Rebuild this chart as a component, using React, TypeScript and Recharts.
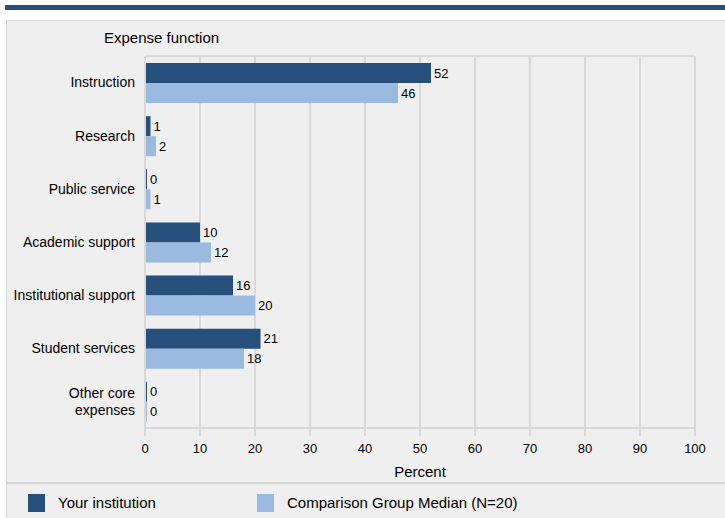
import React from 'react';
import { BarChart, Bar, XAxis, YAxis, CartesianGrid, LabelList } from 'recharts';

// Expense shares (percent of core expenses)
const categories = [
  'Instruction',
  'Research',
  'Public service',
  'Academic support',
  'Institutional support',
  'Student services',
  'Other core\nexpenses',
];
const yourInstitution = [52, 1, 0, 10, 16, 21, 0];
const comparisonMedian = [46, 2, 1, 12, 20, 18, 0];
const xTicks = [0, 10, 20, 30, 40, 50, 60, 70, 80, 90, 100];

const DARK = '#264f7b';
const LIGHT = '#9bbadf';
const GRID = '#d9d9d9';
const FONT = '"Liberation Sans", Arial, sans-serif';

const data = categories.map((name, i) => ({
  name,
  yours: yourInstitution[i],
  median: comparisonMedian[i],
}));

const CategoryTick = (props: any) => {
  const { x, y, payload } = props;
  const lines = String(payload.value).split('\n');
  const lineH = 17;
  const startY = y - ((lines.length - 1) * lineH) / 2;
  return (
    <text x={x} y={startY} textAnchor="end" fontSize={14} fill="#000" fontFamily={FONT}>
      {lines.map((l, i) => (
        <tspan key={i} x={x} y={startY + i * lineH} dy="0.35em">
          {l}
        </tspan>
      ))}
    </text>
  );
};

const App = () => {
  return (
    <div style={{ position: 'absolute', left: 0, top: 0, width: 725, height: 518, background: '#fff', fontFamily: FONT, overflow: 'hidden' }}>
      <div style={{ position: 'absolute', left: 5, top: 5, width: 720, height: 5, background: DARK }} />
      <div
        style={{
          position: 'absolute',
          left: 6,
          top: 20,
          width: 730,
          height: 510,
          background: '#efefef',
          border: '1px solid #d6d6d6',
          boxSizing: 'border-box',
        }}
      />
      <div style={{ position: 'absolute', left: 104, top: 29, fontSize: 15, color: '#000' }}>Expense function</div>
      <div style={{ position: 'absolute', left: 7, top: 482, width: 720, height: 2, background: '#d6d6d6' }} />
      <div style={{ position: 'absolute', left: 0, top: 0 }}>
        <BarChart
          width={725}
          height={518}
          data={data}
          layout="vertical"
          margin={{ top: 56, right: 30, bottom: 40, left: 0 }}
          barGap={0}
          barSize={20}
        >
          <CartesianGrid
            stroke={GRID}
            strokeWidth={2}
            vertical
            horizontal
            horizontalCoordinatesGenerator={({ offset }: any) => [offset.top]}
          />
          <XAxis
            type="number"
            domain={[0, 100]}
            ticks={xTicks}
            interval={0}
            axisLine={{ stroke: GRID, strokeWidth: 2 }}
            tickLine={{ stroke: GRID, strokeWidth: 2 }}
            tickSize={8}
            tickMargin={8}
            tick={{ fontSize: 13, fill: '#000', fontFamily: FONT }}
            height={50}
            label={{ value: 'Percent', position: 'insideBottom', offset: 1, fontSize: 15, fill: '#000', fontFamily: FONT }}
          />
          <YAxis
            type="category"
            dataKey="name"
            width={145}
            axisLine={{ stroke: GRID, strokeWidth: 2 }}
            tickLine={false}
            tickMargin={4}
            interval={0}
            tick={<CategoryTick />}
          />
          <Bar dataKey="yours" fill={DARK} isAnimationActive={false} minPointSize={2}>
            <LabelList dataKey="yours" position="right" offset={3} fontSize={13} fill="#000" fontFamily={FONT} />
          </Bar>
          <Bar dataKey="median" fill={LIGHT} isAnimationActive={false} minPointSize={2}>
            <LabelList dataKey="median" position="right" offset={3} fontSize={13} fill="#000" fontFamily={FONT} />
          </Bar>
        </BarChart>
      </div>
      <div style={{ position: 'absolute', left: 28, top: 494, width: 17, height: 18, background: DARK }} />
      <div style={{ position: 'absolute', left: 58, top: 494, fontSize: 15, color: '#000' }}>Your institution</div>
      <div style={{ position: 'absolute', left: 257, top: 494, width: 17, height: 18, background: LIGHT }} />
      <div style={{ position: 'absolute', left: 287, top: 494, fontSize: 15, color: '#000' }}>Comparison Group Median (N=20)</div>
    </div>
  );
};

export default App;
